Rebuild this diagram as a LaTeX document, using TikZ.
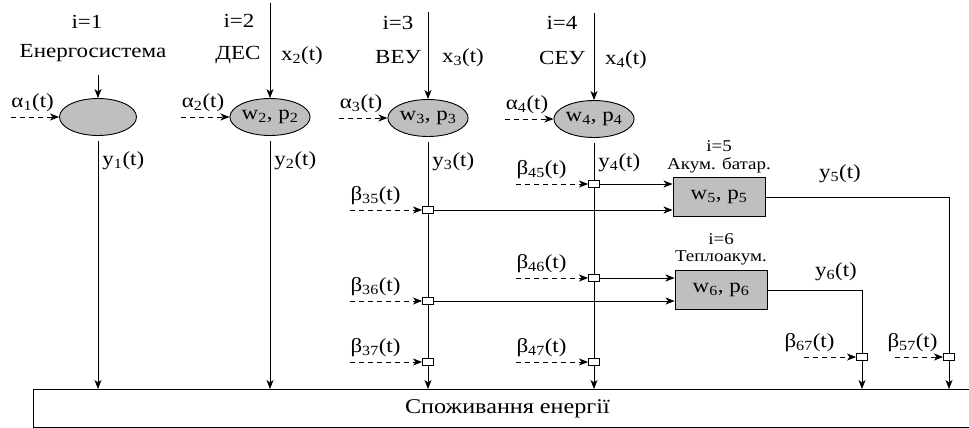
\documentclass[tikz,border=0pt]{standalone}
\usepackage{fontspec}
\setmainfont[FakeStretch=1.15]{Liberation Serif}
\usetikzlibrary{shapes, arrows.meta, positioning}

\begin{document}
\begin{tikzpicture}[x=1pt, y=-1pt, line width=0.9pt, font=\fontsize{20}{22}\selectfont,
    >={Stealth[length=9pt, width=7pt, inset=2.5pt]},
    source/.style={draw, ellipse, fill=gray!50, minimum width=77pt, minimum height=37pt, inner sep=0pt},
    storage/.style={draw, rectangle, fill=gray!50, minimum width=92pt, minimum height=39pt},
    junction/.style={draw, rectangle, fill=white, minimum width=11pt, minimum height=7pt, inner sep=0pt},
    control/.style={->, dash pattern=on 5pt off 4pt},
    smalltext/.style={font=\fontsize{16.5}{18}\selectfont, inner sep=0pt}]
  \useasboundingbox (0,0) rectangle (969,428);

  \node[source] (e1) at (98,117) {};
  \node[source] (e2) at (270,117) {w\textsubscript{2}, p\textsubscript{2}};
  \node[source] (e3) at (428,118) {w\textsubscript{3}, p\textsubscript{3}};
  \node[source] (e4) at (594,119) {w\textsubscript{4}, p\textsubscript{4}};

  \node (i1) at (87,22) {i=1};
  \node (name1) at (93,53) {Енергосистема};
  \node (i2) at (239,21) {i=2};
  \node (name2) at (238,55) {ДЕС};
  \node (x2) at (302,56) {x\textsubscript{2}(t)};
  \node (i3) at (398,23) {i=3};
  \node (name3) at (398,57) {ВЕУ};
  \node (x3) at (463,58) {x\textsubscript{3}(t)};
  \node (i4) at (562,23) {i=4};
  \node (name4) at (562,58) {СЕУ};
  \node (x4) at (626,60) {x\textsubscript{4}(t)};

  \coordinate (in1) at (98,75);
  \coordinate (in2) at (270,3);
  \coordinate (in3) at (428,12);
  \coordinate (in4) at (594,13);

  \node[draw, minimum width=948pt, minimum height=38pt, anchor=north west, font=\fontsize{21}{24}\selectfont] (cons) at (33,389) {Споживання енергії};

  \foreach \k in {1,...,4} {
    \draw[->] (in\k) -- (e\k);
    \coordinate[left=48pt of e\k.west] (a\k);
    \draw[control] (a\k) -- (e\k);
    \node[above right=5pt and 0pt of a\k, inner sep=0pt] (alpha\k) {α\textsubscript{\k}(t)};
    \node[below right=15pt and 4pt of e\k.south, inner sep=0pt] (y\k) {y\textsubscript{\k}(t)};
  }
  \foreach \k in {1,2}
    \draw[->, shorten <=5pt] (e\k) -- (e\k |- cons.north);

  \foreach \s/\px/\py in {35/428/210, 36/428/301, 37/428/362, 45/594/184, 46/594/278, 47/594/362} {
    \node[junction] (j\s) at (\px,\py) {};
    \coordinate[left=72pt of j\s] (d\s);
    \draw[control] (d\s) -- (j\s);
    \node[above right=5pt and 0pt of d\s, inner sep=0pt] (beta\s) {β\textsubscript{\s}(t)};
  }
  \draw[shorten <=5pt] (e3) -- (j35);
  \draw (j35) -- (j36) -- (j37);
  \draw[->] (j37) -- (j37 |- cons.north);
  \draw[shorten <=5pt] (e4) -- (j45);
  \draw (j45) -- (j46) -- (j47);
  \draw[->] (j47) -- (j47 |- cons.north);

  \node[storage] (b5) at (719,197) {w\textsubscript{5}, p\textsubscript{5}};
  \node[storage] (b6) at (721,290) {w\textsubscript{6}, p\textsubscript{6}};
  \node[smalltext, above=4pt of b5] (name5) {Акум. батар.};
  \node[smalltext, above=5pt of name5] (i5) {i=5};
  \node[smalltext, above=5pt of b6] (name6) {Теплоакум.};
  \node[smalltext, above=5pt of name6] (i6) {i=6};

  \draw[->] (j45) -- (j45 -| b5.west);
  \draw[->] (j35) -- (j35 -| b5.west);
  \draw[->] (j46) -- (j46 -| b6.west);
  \draw[->] (j36) -- (j36 -| b6.west);

  \node[junction] (j57) at (949,357) {};
  \node[junction] (j67) at (862,357) {};
  \draw (b5) -| (j57);
  \draw (b6) -| (j67);
  \draw[->] (j57) -- (j57 |- cons.north);
  \draw[->] (j67) -- (j67 |- cons.north);
  \node (y5) at (840,174) {y\textsubscript{5}(t)};
  \node (y6) at (836,272) {y\textsubscript{6}(t)};

  \coordinate[left=52pt of j67] (d67);
  \coordinate[left=48pt of j57] (d57);
  \draw[control] (d67) -- (j67);
  \draw[control] (d57) -- (j57);
  \node[above right=5pt and -20pt of d67, inner sep=0pt] (beta67) {β\textsubscript{67}(t)};
  \node[above right=5pt and -8pt of d57, inner sep=0pt] (beta57) {β\textsubscript{57}(t)};
\end{tikzpicture}
\end{document}
